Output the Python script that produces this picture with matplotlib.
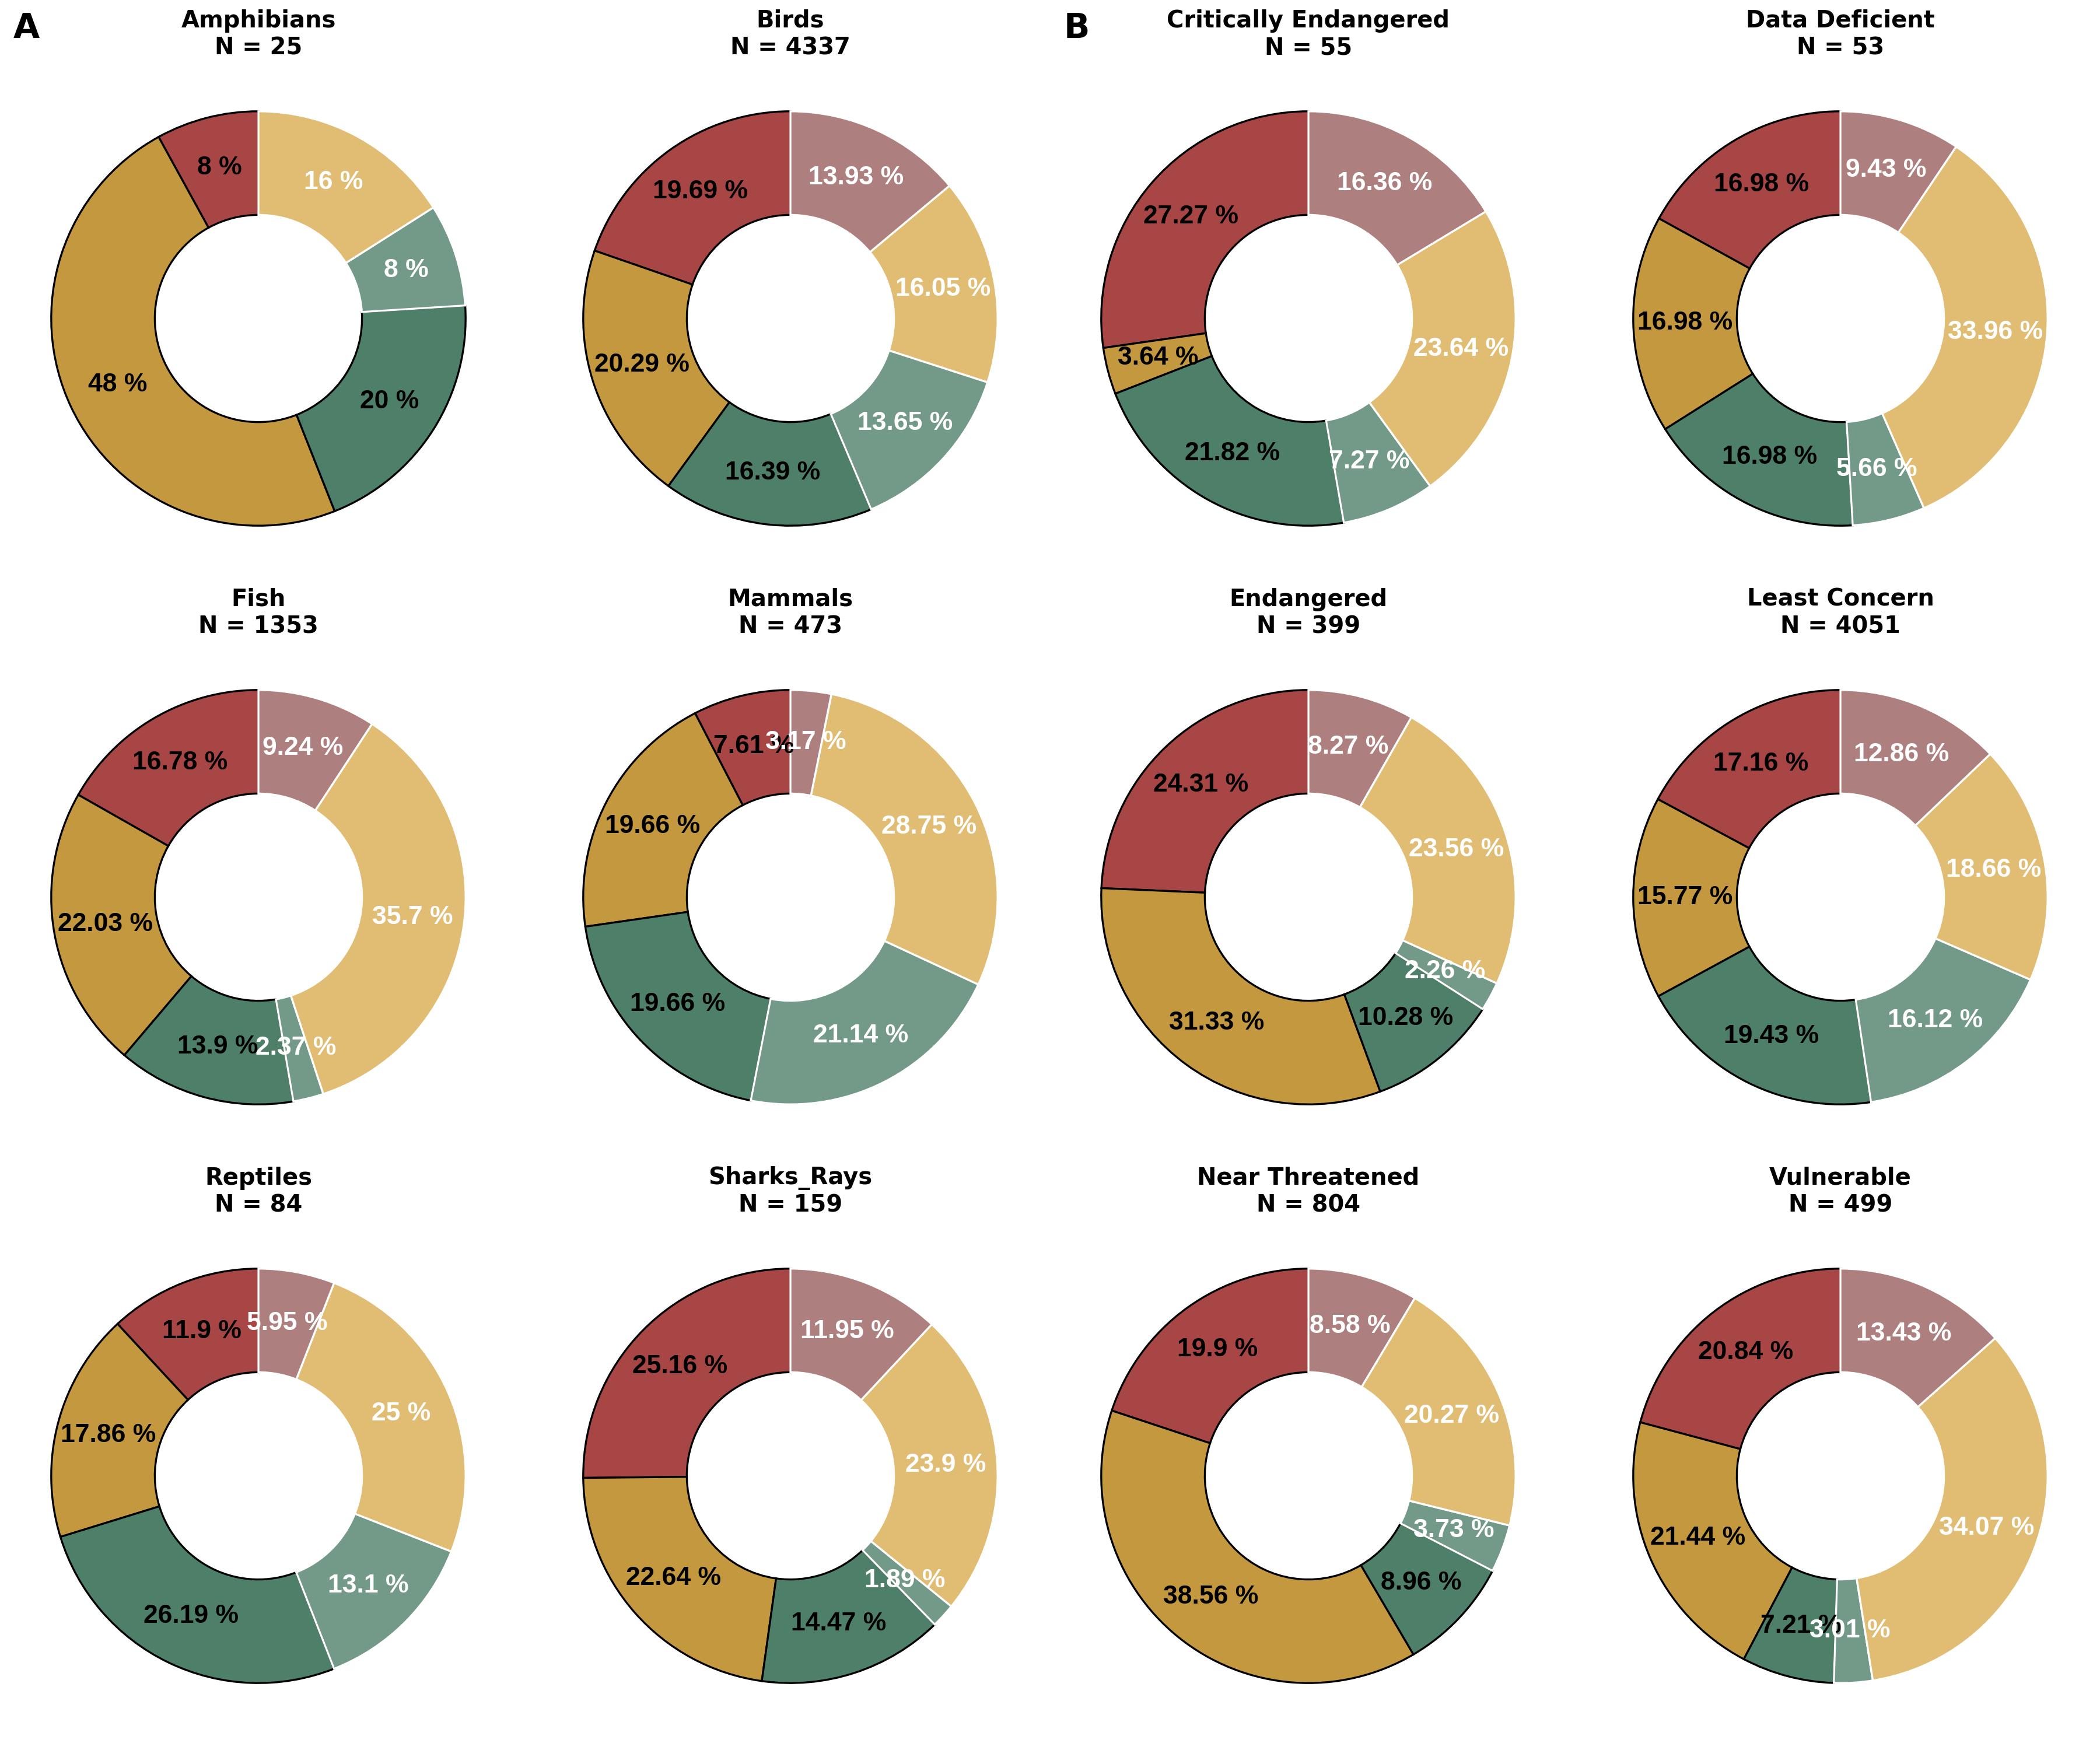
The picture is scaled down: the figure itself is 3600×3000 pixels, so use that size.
import matplotlib.pyplot as plt

# slice order (counter-clockwise from 12 o'clock)
slice_colors = ["#a84646", "#c4983e", "#4d7f69", "#739a88", "#e0bd73", "#ad7f7e"]
edge_colors = ["black", "black", "black", "white", "white", "white"]
text_colors = ["black", "black", "black", "white", "white", "white"]

# panel A: taxonomic groups
groups_a = ["Amphibians", "Birds", "Fish", "Mammals", "Reptiles", "Sharks_Rays"]
n_a = [25, 4337, 1353, 473, 84, 159]
amphibians = [8, 48, 20, 8, 16, 0]
birds = [19.69, 20.29, 16.39, 13.65, 16.05, 13.93]
fish = [16.78, 22.03, 13.9, 2.37, 35.7, 9.24]
mammals = [7.61, 19.66, 19.66, 21.14, 28.75, 3.17]
reptiles = [11.9, 17.86, 26.19, 13.1, 25, 5.95]
sharks_rays = [25.16, 22.64, 14.47, 1.89, 23.9, 11.95]
pct_a = [amphibians, birds, fish, mammals, reptiles, sharks_rays]

# panel B: IUCN categories
groups_b = ["Critically Endangered", "Data Deficient", "Endangered",
            "Least Concern", "Near Threatened", "Vulnerable"]
n_b = [55, 53, 399, 4051, 804, 499]
critically_endangered = [27.27, 3.64, 21.82, 7.27, 23.64, 16.36]
data_deficient = [16.98, 16.98, 16.98, 5.66, 33.96, 9.43]
endangered = [24.31, 31.33, 10.28, 2.26, 23.56, 8.27]
least_concern = [17.16, 15.77, 19.43, 16.12, 18.66, 12.86]
near_threatened = [19.9, 38.56, 8.96, 3.73, 20.27, 8.58]
vulnerable = [20.84, 21.44, 7.21, 3.01, 34.07, 13.43]
pct_b = [critically_endangered, data_deficient, endangered,
         least_concern, near_threatened, vulnerable]

W, H = 3600, 3000
fig = plt.figure(figsize=(18, 15), dpi=200)

col_x = [443, 1355, 2243, 3155]  # donut centres in pixels
row_y = [546, 1538, 2530]
half = 444  # half axes size in pixels (radius 1 -> 355 px, limits +-1.25)


def donut(ax, title, n, vals):
    keep = [i for i, v in enumerate(vals) if v > 0]
    labels = iter([f"{vals[i]:g} %" for i in keep])
    wedges, texts, autotexts = ax.pie(
        [vals[i] for i in keep],
        colors=[slice_colors[i] for i in keep],
        startangle=90, counterclock=True,
        wedgeprops=dict(width=0.5, linewidth=1.2),
        autopct=lambda p: next(labels), pctdistance=0.75,
        textprops=dict(family="Liberation Sans", fontweight="bold", fontsize=16))
    for w, i in zip(wedges, keep):
        w.set_edgecolor(edge_colors[i])
    for t, i in zip(autotexts, keep):
        t.set_color(text_colors[i])
    ax.set_xlim(-1.25, 1.25)
    ax.set_ylim(-1.25, 1.25)
    ax.set_title(f"{title}\nN = {n}", fontweight="bold", fontsize=14.4, pad=0)


def add_ax(cx, cy):
    return fig.add_axes([(cx - half) / W, 1 - (cy + half) / H, 2 * half / W, 2 * half / H])


for k in range(6):
    r, c = divmod(k, 2)
    donut(add_ax(col_x[c], row_y[r]), groups_a[k], n_a[k], pct_a[k])
    donut(add_ax(col_x[c + 2], row_y[r]), groups_b[k], n_b[k], pct_b[k])

fig.text(23 / W, 1 - 20 / H, "A", fontsize=21, fontweight="bold", va="top", ha="left")
fig.text(1824 / W, 1 - 20 / H, "B", fontsize=21, fontweight="bold", va="top", ha="left")

fig.savefig("out.png", dpi=200)
